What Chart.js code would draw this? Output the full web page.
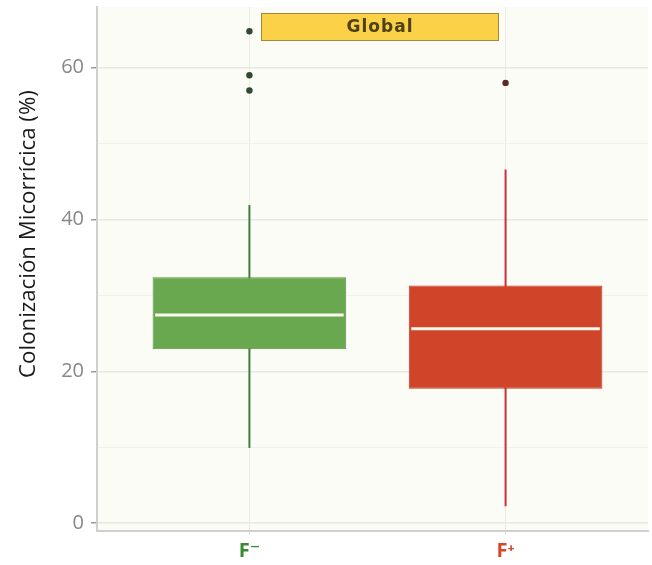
<!DOCTYPE html>
<html>
<head>
<meta charset="utf-8">
<script src="https://cdn.jsdelivr.net/npm/chart.js@4/dist/chart.umd.min.js"></script>
<style>
  html, body { margin: 0; padding: 0; background: #ffffff; }
  #wrap { width: 652px; height: 565px; }
</style>
</head>
<body>
<div id="wrap"><canvas id="c" width="652" height="565"></canvas></div>
<script>
// Box-plot summaries per group (colonización micorrícica, %)
const groups = ['F\u207B', 'F\u207A'];
const groupX = [1, 2];
const whiskerLow = [9.9, 2.2];
const q1 = [22.9, 17.7];
const median = [27.4, 25.6];
const q3 = [32.4, 31.3];
const whiskerHigh = [41.9, 46.6];
const outliersFminus = [64.8, 59.0, 57.0];
const outliersFplus = [58.0];
const yTickValues = [0, 10, 20, 30, 40, 50, 60];
const panelTitle = 'Global';
const yTitle = 'Colonización Micorrícica (%)';

// Styling
const boxFill = ['#69a84f', '#d0442a'];
const boxEdge = ['#588f41', '#b93a22'];
const whiskerColor = ['#3f7d3a', '#c9303a'];
const outlierColor = ['#2f4a30', '#5a2a22'];
const labelColor = ['#3a8a30', '#d4482a'];
const halfBox = 0.378;
const FONT = '"Open Sans", "DejaVu Sans", sans-serif';

const datasets = [];

// whiskers (drawn beneath the boxes)
groupX.forEach((gx, i) => {
  datasets.push({
    type: 'line',
    data: [{ x: gx, y: whiskerLow[i] }, { x: gx, y: whiskerHigh[i] }],
    borderColor: whiskerColor[i],
    borderWidth: 2,
    pointRadius: 0,
    order: 4
  });
});

// interquartile boxes
datasets.push({
  type: 'bar',
  data: groupX.map((gx, i) => ({ x: gx, y: [q1[i], q3[i]] })),
  backgroundColor: boxFill,
  borderColor: boxEdge,
  borderWidth: 1,
  inflateAmount: 0,
  borderSkipped: false,
  barPercentage: halfBox * 2,
  categoryPercentage: 1,
  order: 3
});

// medians
groupX.forEach((gx, i) => {
  datasets.push({
    type: 'line',
    data: [{ x: gx - halfBox + 0.01, y: median[i] }, { x: gx + halfBox - 0.01, y: median[i] }],
    borderColor: '#fdf8ee',
    borderWidth: 3,
    pointRadius: 0,
    order: 2
  });
});

// outliers
[outliersFminus, outliersFplus].forEach((vals, i) => {
  datasets.push({
    type: 'scatter',
    data: vals.map(v => ({ x: groupX[i], y: v })),
    backgroundColor: outlierColor[i],
    borderColor: outlierColor[i],
    pointRadius: 3.2,
    borderWidth: 0,
    order: 1
  });
});

const panelBackground = {
  id: 'panelBackground',
  beforeDraw(chart) {
    const { ctx, chartArea: a } = chart;
    ctx.save();
    ctx.fillStyle = '#fcfcf7';
    ctx.fillRect(a.left, a.top, a.right - a.left, a.bottom - a.top);
    ctx.restore();
  }
};

const annotations = {
  id: 'annotations',
  afterDraw(chart) {
    const { ctx, chartArea: a } = chart;
    ctx.save();
    // facet strip
    const sx = a.left + 164, sy = a.top + 6, sw = 238, sh = 28;
    ctx.fillStyle = '#fbd148';
    ctx.fillRect(sx, sy, sw, sh);
    ctx.strokeStyle = '#a08a3a';
    ctx.lineWidth = 1;
    ctx.strokeRect(sx + 0.5, sy + 0.5, sw - 1, sh - 1);
    ctx.fillStyle = '#4e4018';
    ctx.font = 'bold 17px "DejaVu Sans", sans-serif';
    ctx.letterSpacing = '1px';
    ctx.textAlign = 'center';
    ctx.textBaseline = 'middle';
    ctx.fillText(panelTitle, sx + sw / 2, sy + sh / 2 + 1);
    ctx.letterSpacing = '0px';
    // y-axis title, sized to span its length
    ctx.translate(29, 234);
    ctx.rotate(-Math.PI / 2);
    ctx.fillStyle = '#1a1a1a';
    let size = 21;
    ctx.font = size + 'px ' + FONT;
    size = size * 288 / ctx.measureText(yTitle).width;
    ctx.font = size.toFixed(2) + 'px ' + FONT;
    ctx.fillText(yTitle, 0, 0);
    ctx.restore();
  }
};

new Chart(document.getElementById('c'), {
  type: 'bar',
  data: { datasets },
  options: {
    responsive: false,
    devicePixelRatio: 1,
    animation: false,
    layout: { padding: { top: 7, right: 2, left: 0, bottom: 0 } },
    plugins: { legend: { display: false }, tooltip: { enabled: false } },
    scales: {
      x: {
        type: 'linear',
        offset: false,
        min: 0.405,
        max: 2.556,
        afterBuildTicks(scale) { scale.ticks = groupX.map(v => ({ value: v })); },
        afterFit(scale) {
          scale.height = 34;
          scale.paddingLeft = 0;
          scale.paddingRight = 0;
        },
        ticks: {
          callback: v => groups[groupX.indexOf(v)],
          color: ctx => labelColor[ctx.index],
          font: { family: FONT, size: 20, weight: 'bold' },
          padding: 4,
          maxRotation: 0,
          autoSkip: false
        },
        grid: { offset: false, color: '#ebebe8', lineWidth: 1, tickLength: 4, tickColor: '#dcdcdc' },
        border: { display: true, color: '#cfcfcf', width: 2 }
      },
      y: {
        type: 'linear',
        min: -1.05,
        max: 68,
        afterBuildTicks(scale) { scale.ticks = yTickValues.map(v => ({ value: v })); },
        afterFit(scale) {
          scale.width = 97;
          scale.paddingTop = 0;
          scale.paddingBottom = 0;
        },
        ticks: {
          callback: v => (v % 20 === 0 ? String(v) : ''),
          color: '#878787',
          font: { family: FONT, size: 20 },
          padding: 7
        },
        grid: {
          color: ctx => (ctx.tick && ctx.tick.value % 20 === 0 ? '#e8e8e3' : '#f2f2ed'),
          lineWidth: ctx => (ctx.tick && ctx.tick.value % 20 === 0 ? 1.5 : 1),
          tickLength: 6,
          tickColor: ctx => (ctx.tick && ctx.tick.value % 20 === 0 ? '#9a9a9a' : 'rgba(0,0,0,0)')
        },
        border: { display: true, color: '#cfcfcf', width: 2 }
      }
    }
  },
  plugins: [panelBackground, annotations]
});
</script>
</body>
</html>
